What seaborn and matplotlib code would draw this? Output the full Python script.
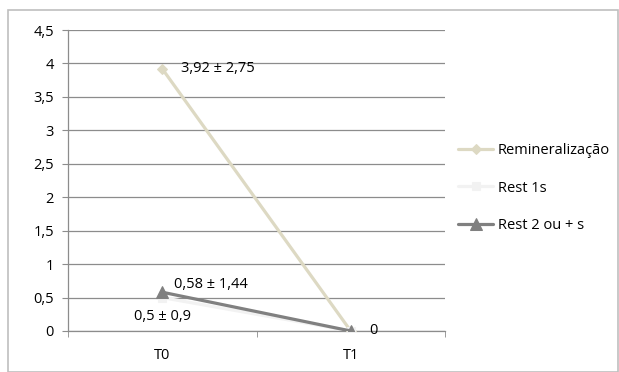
import pandas as pd
import matplotlib.pyplot as plt
import seaborn as sns
from matplotlib.patches import Rectangle

# values
times = ['T0', 'T1']
remin = [3.92, 0]
rest1 = [0.5, 0]
rest2 = [0.58, 0]
series_names = ['Remineralização', 'Rest 1s', 'Rest 2 ou + s']
point_labels = {
    'Remineralização': ['3,92 ± 2,75', None],
    'Rest 1s': ['0,5 ± 0,9', None],
    'Rest 2 ou + s': ['0,58 ± 1,44', '0'],
}
yticks = [0, 0.5, 1, 1.5, 2, 2.5, 3, 3.5, 4, 4.5]

df = pd.DataFrame({
    'Tempo': list(range(len(times))) * 3,
    'Valor': remin + rest1 + rest2,
    'Serie': [s for s in series_names for _ in times],
})

sns.set_style('white')
plt.rcParams['font.family'] = ['Open Sans', 'DejaVu Sans']
plt.rcParams['text.color'] = 'black'
plt.rcParams['xtick.color'] = 'black'
plt.rcParams['ytick.color'] = 'black'

fig = plt.figure(figsize=(6.19, 3.72), dpi=100)
ax = fig.add_axes([68 / 619, 1 - 331 / 372, (445 - 68) / 619, (331 - 30) / 372])

# outer chart frame
fig.patches.append(Rectangle((8 / 619, 0), 1 - 8 / 619 - 0.002, 1 - 10 / 372,
                             transform=fig.transFigure, fill=False,
                             edgecolor='#bfbfbf', linewidth=1.2))

colors = {'Remineralização': '#ddd9c3', 'Rest 1s': '#f2f2f2', 'Rest 2 ou + s': '#808080'}
markers = {'Remineralização': 'D', 'Rest 1s': 's', 'Rest 2 ou + s': '^'}
sizes = {'Remineralização': 5, 'Rest 1s': 6, 'Rest 2 ou + s': 9}

for name in series_names:
    sub = df[df['Serie'] == name]
    sns.lineplot(data=sub, x='Tempo', y='Valor', ax=ax, color=colors[name],
                 marker=markers[name], markersize=sizes[name], linewidth=2.3,
                 markeredgecolor=colors[name], label=name, zorder=3)

# data labels
offsets = {
    'Remineralização': [(0.1, 0.0), None],
    'Rest 1s': [(0.0, -0.29), None],
    'Rest 2 ou + s': [(0.06, 0.11), (0.1, 0.0)],
}
for name in series_names:
    vals = df[df['Serie'] == name]['Valor'].tolist()
    for i, lab in enumerate(point_labels[name]):
        if lab is None:
            continue
        dx, dy = offsets[name][i]
        ha = 'center' if dx == 0 else 'left'
        ax.text(i + dx, vals[i] + dy, lab, ha=ha, va='center', fontsize=10.5,
                color='black', zorder=5)

ax.set_xlim(-0.5, 1.5)
ax.set_ylim(0, 4.5)
ax.set_yticks(yticks)
ax.set_yticklabels([str(v).replace('.', ',') if v != int(v) else str(int(v)) for v in yticks])
ax.yaxis.grid(True, color='#8c8c8c', linewidth=0.9)
ax.set_axisbelow(True)

ax.set_xticks([0, 1])
ax.set_xticklabels(times)
ax.tick_params(axis='x', length=0, pad=12, labelsize=10.5)
ax.tick_params(axis='y', length=4, color='#8c8c8c', left=True, labelsize=10.5, pad=6)
ax.set_xticks([-0.5, 0.5, 1.5], minor=True)
ax.tick_params(axis='x', which='minor', length=4, color='#8c8c8c', bottom=True)

for s in ['top', 'right']:
    ax.spines[s].set_visible(False)
for s in ['left', 'bottom']:
    ax.spines[s].set_color('#8c8c8c')
    ax.spines[s].set_linewidth(0.9)

ax.set_xlabel('')
ax.set_ylabel('')
ax.legend(loc='center left', bbox_to_anchor=(1.0, 0.475), frameon=False,
          fontsize=10.5, handlelength=2.4, labelspacing=1.55, handletextpad=0.3)

fig.savefig('out.png', dpi=100)
